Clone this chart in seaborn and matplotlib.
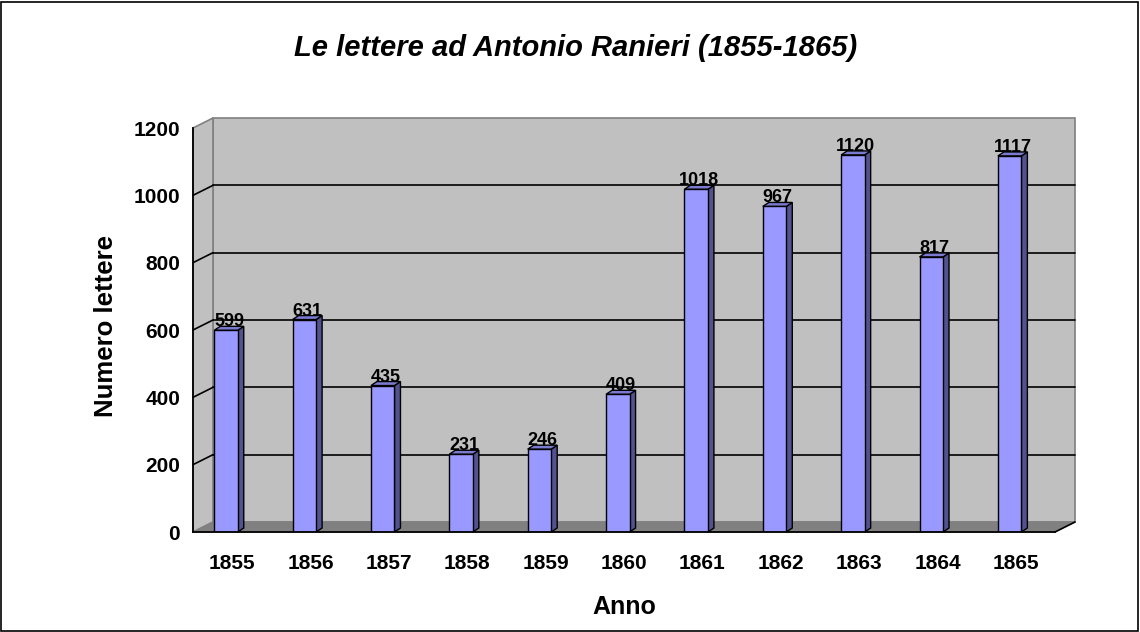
import matplotlib
matplotlib.use("Agg")
import matplotlib.pyplot as plt
from matplotlib.patches import Polygon, Rectangle
import seaborn as sns

# dati
anni = ["1855", "1856", "1857", "1858", "1859", "1860",
        "1861", "1862", "1863", "1864", "1865"]
lettere = [599, 631, 435, 231, 246, 409, 1018, 967, 1120, 817, 1117]
y_ticks = [0, 200, 400, 600, 800, 1000, 1200]

sns.set_style("white")
plt.rcParams['font.family'] = ['Liberation Sans', 'DejaVu Sans']
plt.rcParams['text.color'] = 'black'
plt.rcParams['xtick.color'] = 'black'
plt.rcParams['ytick.color'] = 'black'

W, H = 1140, 632
fig = plt.figure(figsize=(W / 100, H / 100), dpi=100)

# piano frontale in pixel
x0, x1, ytop, ybot = 193, 1055, 128, 532
ax = fig.add_axes([x0 / W, 1 - ybot / H, (x1 - x0) / W, (ybot - ytop) / H])

n = len(anni)
a = -0.421
px_x = (x1 - x0) / n
px_y = (ybot - ytop) / 1200


def dx(p):
    return p / px_x


def dy(p):
    return p / px_y


# barre (faccia frontale)
sns.barplot(x=anni, y=lettere, color='#9999FF', saturation=1,
            edgecolor='black', linewidth=1, width=0.30, ax=ax, zorder=5)
ax.set_xlim(a, a + n)
ax.set_ylim(0, 1200)
ax.set_facecolor('none')

# pareti 3D
ox, oy = dx(20), dy(10)
ax.add_patch(Rectangle((a + ox, oy), n, 1200, facecolor='#C0C0C0',
                       edgecolor='#808080', lw=1.2, clip_on=False, zorder=0))
ax.add_patch(Polygon([(a, 0), (a, 1200), (a + ox, 1200 + oy), (a + ox, oy)],
                     closed=True, facecolor='#C0C0C0', edgecolor='#808080',
                     lw=1.2, clip_on=False, zorder=0))
ax.add_patch(Polygon([(a, 0), (a + n, 0), (a + n + ox, oy), (a + ox, oy)],
                     closed=True, facecolor='#808080', edgecolor='#808080',
                     lw=1, clip_on=False, zorder=1))
ax.plot([a + n, a + n + ox], [0, oy], color='black', lw=1.2,
        clip_on=False, zorder=2)

# griglia
for v in y_ticks[1:-1]:
    ax.plot([a + ox, a + n + ox], [v + oy, v + oy], color='black', lw=1.2,
            clip_on=False, zorder=2)
    ax.plot([a, a + ox], [v, v + oy], color='black', lw=1.2,
            clip_on=False, zorder=2)

# lati e tetti delle barre
sx, sy = dx(6), dy(4)
for p, v in zip(ax.patches[:n], lettere):
    x, w, h = p.get_x(), p.get_width(), p.get_height()
    ax.add_patch(Polygon([(x + w, 0), (x + w, h), (x + w + sx, h + sy), (x + w + sx, sy)],
                         closed=True, facecolor='#52528F', edgecolor='black',
                         lw=1, clip_on=False, zorder=4))
    ax.add_patch(Polygon([(x, h), (x + w, h), (x + w + sx, h + sy), (x + sx, h + sy)],
                         closed=True, facecolor='#7A7AD0', edgecolor='black',
                         lw=1, clip_on=False, zorder=4))
    ax.text(x + (w + sx) / 2, h + sy, str(v), ha='center',
            va='baseline', fontsize=13, fontweight='bold', color='black', zorder=6)

# assi
for s in ['top', 'right']:
    ax.spines[s].set_visible(False)
for s in ['left', 'bottom']:
    ax.spines[s].set_color('black')
    ax.spines[s].set_linewidth(1.3)
    ax.spines[s].set_zorder(6)

ax.set_yticks(y_ticks)
ax.set_yticklabels([str(t) for t in y_ticks], fontsize=15, fontweight='bold')
ax.tick_params(axis='y', length=4.3, width=1.2, pad=5, color='black')

ax.set_xticks([a + k for k in range(n + 1)])
ax.set_xticklabels([])
ax.set_xticks([a + k + 0.5 for k in range(n)], minor=True)
ax.set_xticklabels(anni, minor=True, fontsize=15, fontweight='bold')
ax.tick_params(axis='x', which='major', length=4.3, width=1.2, color='black')
ax.tick_params(axis='x', which='minor', length=0, pad=15.5)
ax.set_xlabel('')
ax.set_ylabel('')

fig.text(576 / W, 1 - 48 / H, 'Le lettere ad Antonio Ranieri (1855-1865)',
         ha='center', va='center', fontsize=21, fontweight='bold', style='italic')
fig.text(624 / W, 1 - 607 / H, 'Anno', ha='center', va='center',
         fontsize=18, fontweight='bold')
fig.text(106 / W, 1 - 326 / H, 'Numero lettere', ha='center', va='center',
         rotation=90, fontsize=18.5, fontweight='bold')

fig.add_artist(Rectangle((0.001, 0.002), 0.997, 0.995, transform=fig.transFigure,
                         fill=False, edgecolor='black', lw=1.2))

fig.savefig('out.png', dpi=100)
